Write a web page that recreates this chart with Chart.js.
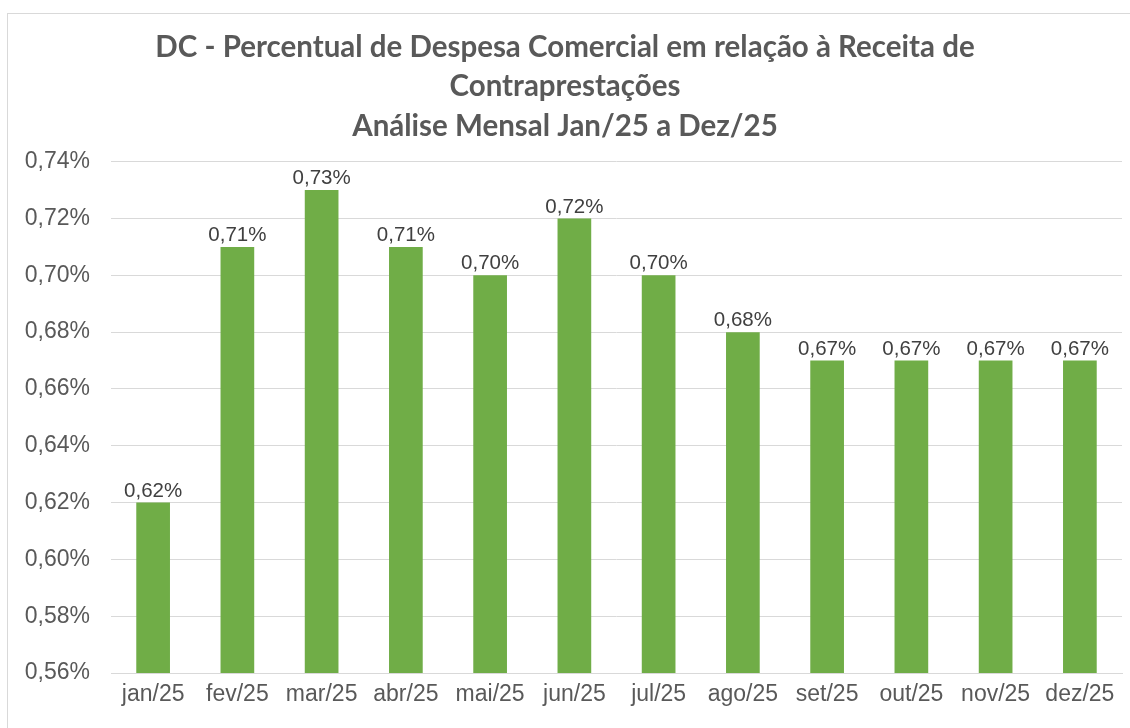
<!DOCTYPE html>
<html>
<head>
<meta charset="utf-8">
<script src="https://cdn.jsdelivr.net/npm/chart.js@4"></script>
<style>
  body { margin: 0; background: #fff; }
  #box { position: absolute; left: 7px; top: 13px; width: 1122px; height: 720px; border: 1px solid #d9d9d9; }
</style>
</head>
<body>
<div id="box"><canvas id="dataChartCanvas" width="1122" height="720"></canvas></div>
<script>
const monthLabels = ["jan/25","fev/25","mar/25","abr/25","mai/25","jun/25","jul/25","ago/25","set/25","out/25","nov/25","dez/25"];
const despesaValues = [0.62, 0.71, 0.73, 0.71, 0.70, 0.72, 0.70, 0.68, 0.67, 0.67, 0.67, 0.67];
const titleLines = ["DC - Percentual de Despesa Comercial em relação à Receita de", "Contraprestações", "Análise Mensal Jan/25 a Dez/25"];

function formatPct(v){
  return v.toFixed(2).replace(".", ",") + "%";
}

// draws the value above each bar, like excel data labels
const barValueLabels = {
  id: "barValueLabels",
  afterDatasetsDraw(chart){
    const ctx = chart.ctx;
    const meta = chart.getDatasetMeta(0);
    ctx.save();
    ctx.font = "20.5px 'Liberation Sans', Arial, sans-serif";
    ctx.fillStyle = "#404040";
    ctx.textAlign = "center";
    ctx.textBaseline = "alphabetic";
    meta.data.forEach((bar, i) => {
      ctx.fillText(formatPct(despesaValues[i]), bar.x, bar.y - 6);
    });
    ctx.restore();
  }
};

new Chart("dataChartCanvas", {
  type: "bar",
  data: {
    labels: monthLabels,
    datasets: [{
      data: despesaValues,
      backgroundColor: "#70ad47",
      borderWidth: 0,
      barPercentage: 0.4,
      categoryPercentage: 1.0
    }]
  },
  options: {
    responsive: false,
    animation: false,
    layout: { padding: { left: 0, right: 8, top: 0, bottom: 0 } },
    plugins: {
      legend: { display: false },
      tooltip: { enabled: false },
      title: {
        display: true,
        text: titleLines,
        color: "#595959",
        font: { family: "Lato, 'Open Sans', sans-serif", size: 29.5, weight: "bold", lineHeight: 1.33 },
        padding: { top: 14, bottom: 16 }
      }
    },
    scales: {
      x: {
        grid: { display: false, drawTicks: false },
        border: { color: "#d9d9d9" },
        ticks: {
          color: "#595959",
          font: { family: "'Liberation Sans', Arial, sans-serif", size: 23 },
          padding: 8,
          maxRotation: 0
        },
        afterFit(scale){ scale.height = 61; }
      },
      y: {
        min: 0.56,
        max: 0.74,
        grid: { color: "#d9d9d9", drawTicks: false },
        border: { display: false },
        ticks: {
          stepSize: 0.02,
          color: "#595959",
          font: { family: "'Liberation Sans', Arial, sans-serif", size: 23 },
          padding: 21,
          callback: v => formatPct(v)
        },
        afterFit(scale){ scale.width = 103; }
      }
    }
  },
  plugins: [barValueLabels]
});
</script>
</body>
</html>
